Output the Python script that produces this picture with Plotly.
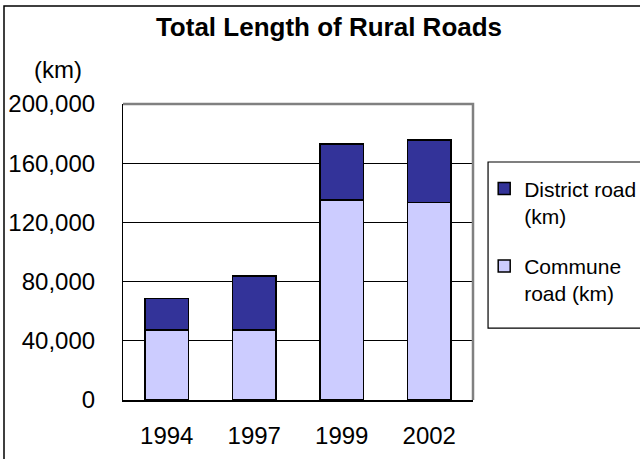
import plotly.graph_objects as go

years = ["1994", "1997", "1999", "2002"]
commune_km = [47300, 47300, 135100, 133600]
district_km = [21400, 36500, 37900, 42100]

FONT = "Liberation Sans, Arial, sans-serif"

fig = go.Figure()
fig.add_trace(go.Bar(
    x=years, y=commune_km, name="Commune<br>road (km)",
    legendgroup="commune", legendrank=2,
    marker=dict(color="#CCCCFF", line=dict(color="black", width=1.5)),
))
fig.add_trace(go.Bar(
    x=years, y=district_km, name="District road<br>(km)",
    legendgroup="district", legendrank=1,
    marker=dict(color="#333399", line=dict(color="black", width=1.5)),
))

# outer chart frame, legend frame, grey top/right edge of the plot area
fig.add_shape(type="rect", xref="paper", yref="paper",
              x0=-0.34, y0=-1, x1=2, y1=1.331,
              line=dict(color="black", width=1.5))
fig.add_shape(type="rect", xref="paper", yref="paper",
              x0=1.043, y0=0.243, x1=2, y1=0.804,
              line=dict(color="black", width=1.2))
fig.add_shape(type="path", xref="paper", yref="paper",
              path="M 0,1 L 1,1 L 1,0",
              line=dict(color="#808080", width=2.5))

fig.add_annotation(text="(km)", xref="paper", yref="paper",
                   x=-0.186, y=1.118, xanchor="center", yanchor="middle",
                   showarrow=False,
                   font=dict(size=24, color="black", family=FONT))

fig.update_layout(
    width=640, height=459,
    barmode="stack", bargap=0.5,
    paper_bgcolor="white", plot_bgcolor="white",
    margin=dict(l=123, r=167, t=104, b=59, autoexpand=False),
    font=dict(family=FONT, color="black"),
    title=dict(text="<b>Total Length of Rural Roads</b>",
               x=329 / 640, xanchor="center",
               y=1 - 27 / 459, yanchor="middle",
               font=dict(size=26, color="black", family=FONT)),
    legend=dict(traceorder="grouped", x=1.032, y=0.783,
                xanchor="left", yanchor="top", valign="top",
                font=dict(size=21, color="black", family=FONT),
                bgcolor="rgba(0,0,0,0)", borderwidth=0,
                tracegroupgap=20),
    showlegend=True,
)
fig.update_xaxes(showline=True, linecolor="black", linewidth=1.5,
                 ticks="", ticklabelstandoff=13,
                 tickfont=dict(size=24))
fig.update_yaxes(range=[0, 200000], dtick=40000, tickformat=",",
                 showline=True, linecolor="black", linewidth=1.2,
                 showgrid=True, gridcolor="black", gridwidth=1,
                 ticks="inside", ticklen=9, tickcolor="black",
                 ticklabelstandoff=22, zeroline=False,
                 tickfont=dict(size=24))

fig.write_html("out.html", config={"displayModeBar": False},
               post_script="document.body.style.margin='0';")
